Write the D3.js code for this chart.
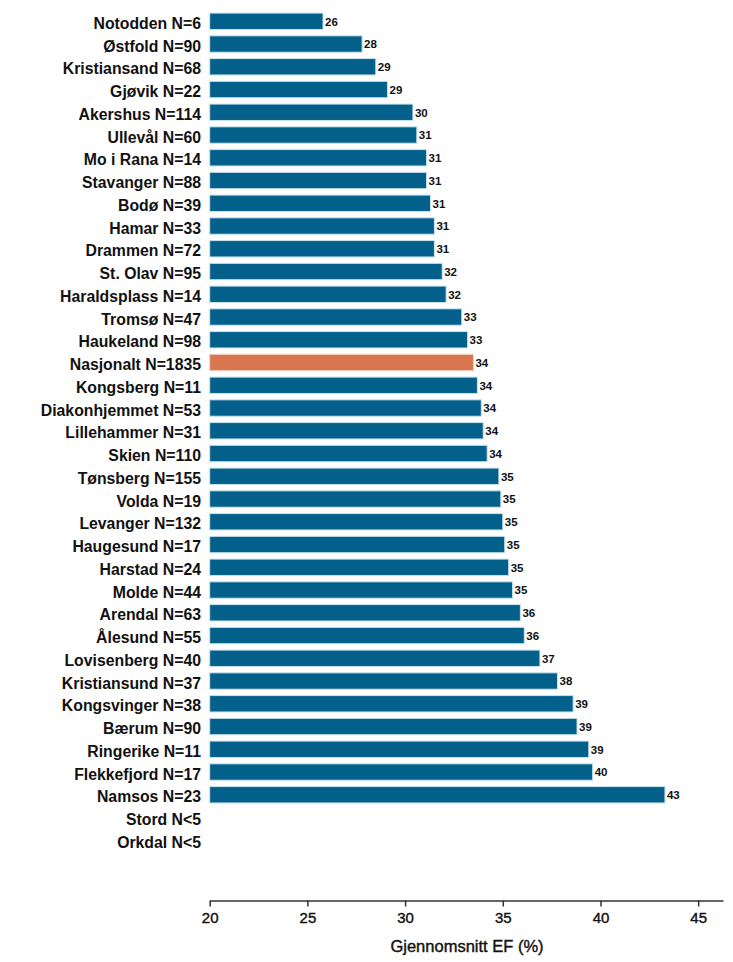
<!DOCTYPE html>
<html><head><meta charset="utf-8">
<script src="https://cdn.jsdelivr.net/npm/d3@7"></script>
<style>body{margin:0;background:#fff}svg{display:block}text{font-family:"Liberation Sans",Arial,sans-serif}</style>
</head><body>
<svg id="c" width="733" height="962"></svg>
<script>
const categories = ["Notodden N=6","Østfold N=90","Kristiansand N=68","Gjøvik N=22","Akershus N=114","Ullevål N=60","Mo i Rana N=14","Stavanger N=88","Bodø N=39","Hamar N=33","Drammen N=72","St. Olav N=95","Haraldsplass N=14","Tromsø N=47","Haukeland N=98","Nasjonalt N=1835","Kongsberg N=11","Diakonhjemmet N=53","Lillehammer N=31","Skien N=110","Tønsberg N=155","Volda N=19","Levanger N=132","Haugesund N=17","Harstad N=24","Molde N=44","Arendal N=63","Ålesund N=55","Lovisenberg N=40","Kristiansund N=37","Kongsvinger N=38","Bærum N=90","Ringerike N=11","Flekkefjord N=17","Namsos N=23","Stord N<5","Orkdal N<5"];
const values = [25.8,27.8,28.5,29.1,30.4,30.6,31.1,31.1,31.3,31.5,31.5,31.9,32.1,32.9,33.2,33.5,33.7,33.9,34.0,34.2,34.8,34.9,35.0,35.1,35.3,35.5,35.9,36.1,36.9,37.8,38.6,38.8,39.4,39.6,43.3,null,null];
const valueLabels = ["26","28","29","29","30","31","31","31","31","31","31","32","32","33","33","34","34","34","34","34","35","35","35","35","35","35","36","36","37","38","39","39","39","40","43","",""];
const highlight = "Nasjonalt N=1835";
const xTicks = [20,25,30,35,40,45];
const xTitle = "Gjennomsnitt EF (%)";

const svg = d3.select("#c");
const x = d3.scaleLinear().domain([20, 46.27]).range([209.7, 723]);
const step = 22.75;
const y = d3.scaleBand().domain(categories).range([9.9, 9.9 + categories.length*step]).paddingInner(0.28).paddingOuter(0.14);

const data = categories.map((c,i)=>({c, v: values[i], l: valueLabels[i]}));

svg.append("g").selectAll("rect").data(data.filter(d=>d.v!=null)).join("rect")
  .attr("x", x(20)).attr("y", d=>y(d.c))
  .attr("width", d=>x(d.v)-x(20)).attr("height", y.bandwidth())
  .attr("fill", d=>d.c===highlight?"#d97650":"#02608b")
  .attr("stroke", d=>d.c===highlight?"#f3d3c4":"#c8e2ef").attr("stroke-width",1);

svg.append("g").selectAll("text").data(data).join("text")
  .attr("x", 201).attr("y", d=>y(d.c)+y.bandwidth()/2+7.7)
  .attr("text-anchor","end").attr("font-size","15.8px").attr("font-weight","bold").attr("fill","#111")
  .text(d=>d.c);

svg.append("g").selectAll("text").data(data.filter(d=>d.v!=null)).join("text")
  .attr("x", d=>x(d.v)+2).attr("y", d=>y(d.c)+y.bandwidth()/2+4.3)
  .attr("font-size","11.5px").attr("font-weight","bold").attr("fill","#111")
  .text(d=>d.l);

const ax = svg.append("g").attr("transform","translate(0,900.5)")
  .call(d3.axisBottom(x).tickValues(xTicks).tickSize(6).tickSizeOuter(0).tickPadding(6));
ax.select(".domain").attr("stroke","#333").attr("stroke-width",1.5);
ax.selectAll(".tick line").attr("stroke","#333").attr("stroke-width",1.5);
ax.selectAll(".tick text").attr("font-size","15px").attr("fill","#111")
  .attr("stroke","#111").attr("stroke-width",0.4)
  .attr("font-family","Liberation Sans, Arial, sans-serif");

svg.append("text").attr("x",467).attr("y",952).attr("text-anchor","middle")
  .attr("font-size","16.5px").attr("fill","#111").attr("stroke","#111").attr("stroke-width",0.4)
  .text(xTitle);
</script>
</body></html>
